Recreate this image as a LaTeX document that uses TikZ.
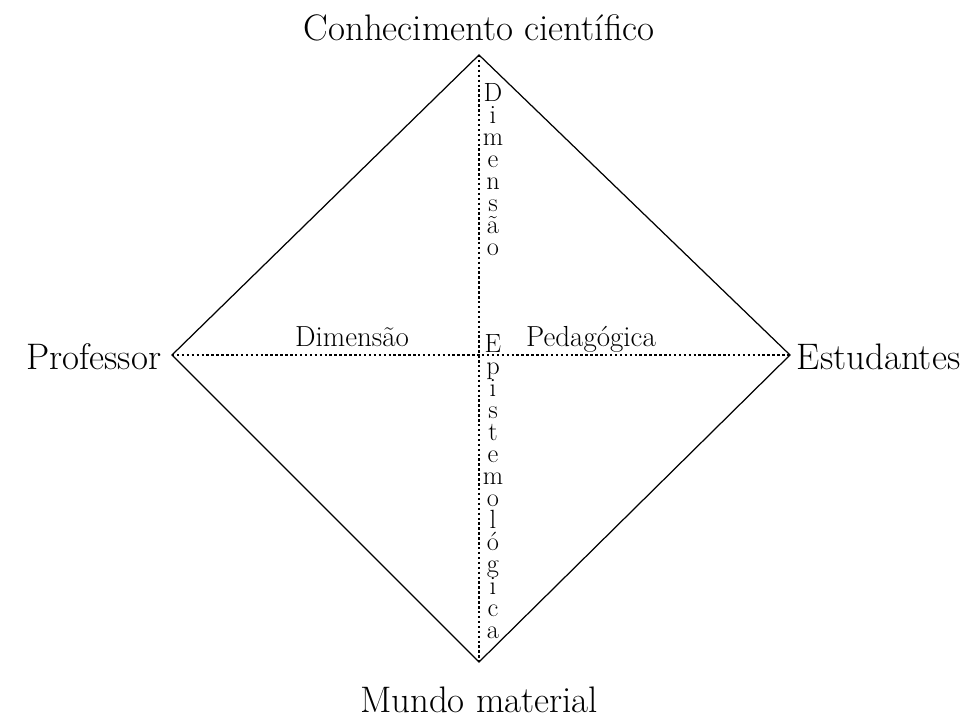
\documentclass[tikz,border=0pt]{standalone}
\usepackage{tikz}
\usetikzlibrary{calc}

\tikzset{
    vertice/.style={font=\fontsize{21}{25}\selectfont, inner sep=2pt},
    dimensao/.style={font=\fontsize{16.5}{20}\selectfont, inner sep=0pt},
    letra/.style={font=\fontsize{15}{18}\selectfont, inner sep=0pt, anchor=base,
        text height=8pt, text depth=0pt},
    eixo/.style={dash pattern=on 1.4pt off 1.4pt, line width=0.75pt}
}

\begin{document}
\begin{tikzpicture}
    \useasboundingbox (0,0) rectangle (19.32,14.44);
    % vertices do losango
    \coordinate (topo) at (9.58,13.34);
    \coordinate (esq) at (3.44,7.34);
    \coordinate (dir) at (15.80,7.34);
    \coordinate (base) at (9.58,1.20);
    \draw[line width=0.7pt] (topo) -- (dir) -- (base) -- (esq) -- cycle;
    \draw[eixo] (esq) -- (dir);
    \draw[eixo] (topo) -- (base);
    % rotulos
    \node[vertice] (conhec) at (9.58,13.88) {Conhecimento científico};
    \node[vertice, left] (prof) at (3.30,7.30) {Professor};
    \node[vertice, right] (estud) at (15.86,7.30) {Estudantes};
    \node[vertice] (mundo) at (9.58,0.44) {Mundo material};
    \node[dimensao, anchor=base] (dimped) at (7.04,7.51) {Dimensão};
    \node[dimensao, anchor=base] (ped) at (11.82,7.51) {Pedagógica};
    % texto vertical
    \foreach \ch [count=\i] in {D,i,m,e,n,s,ã,o}
        \node[letra] (dim\i) at (9.86,12.84-0.44*\i) {\ch};
    \foreach \ch [count=\i] in {E,p,i,s,t,e,m,o,l,ó,g,i,c,a}
        \node[letra] (epi\i) at (9.86,7.82-0.44*\i) {\ch};
\end{tikzpicture}
\end{document}
